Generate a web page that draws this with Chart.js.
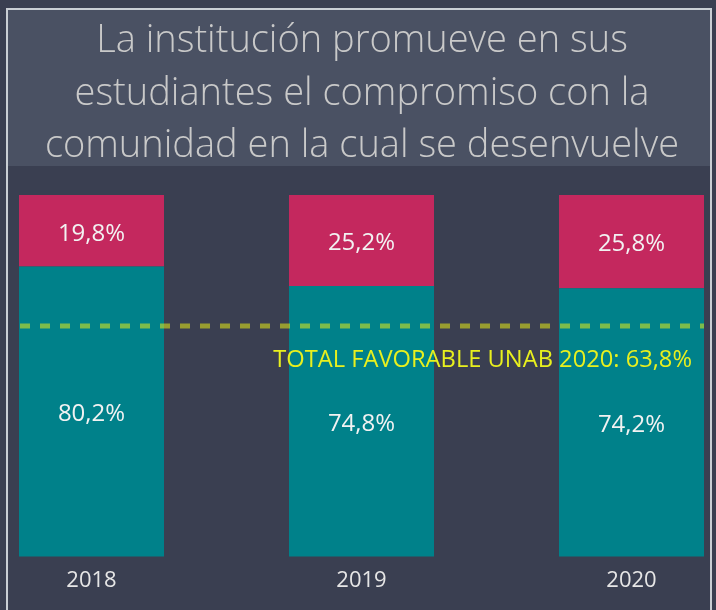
<!DOCTYPE html>
<html>
<head>
<meta charset="utf-8">
<script src="https://cdn.jsdelivr.net/npm/chart.js@4"></script>
<style>
  html, body { margin: 0; padding: 0; background: #3a3f51; }
  #wrap { width: 716px; height: 610px; }
</style>
</head>
<body>
<div id="wrap"><canvas id="chart" width="716" height="610"></canvas></div>
<script>
// Data
const years = ["2018", "2019", "2020"];
const favorable = [80.2, 74.8, 74.2];
const noFavorable = [19.8, 25.2, 25.8];
const totalUnab = 63.8;
const totalLabel = "TOTAL FAVORABLE UNAB 2020: ";
const titleLines = [
  "La institución promueve en sus",
  "estudiantes el compromiso con la",
  "comunidad en la cual se desenvuelve"
];

const FONT = "'Open Sans', 'Noto Sans', sans-serif";

function fmt(v) {
  return v.toFixed(1).replace(".", ",") + "%";
}

// background, title box, title text and frame
const framePlugin = {
  id: "frame",
  beforeDraw(chart) {
    const ctx = chart.ctx;
    ctx.save();
    ctx.fillStyle = "#3a3f51";
    ctx.fillRect(0, 0, chart.width, chart.height);
    ctx.fillStyle = "#4a5163";
    ctx.fillRect(8, 9, 702, 157);
    ctx.strokeStyle = "#c9ced4";
    ctx.lineWidth = 2;
    ctx.beginPath();
    ctx.moveTo(7, chart.height + 2);
    ctx.lineTo(7, 9);
    ctx.lineTo(711, 9);
    ctx.lineTo(711, chart.height + 2);
    ctx.stroke();

    // title (drawn by hand so the lines are not squeezed to the plot width)
    ctx.font = "300 38px " + FONT;
    ctx.fillStyle = "#c9c9c9";
    ctx.textAlign = "center";
    ctx.textBaseline = "alphabetic";
    titleLines.forEach((line, i) => {
      ctx.fillText(line, 362, 52 + i * 52.5);
    });
    ctx.restore();
  }
};

// values inside bars + reference line
const labelPlugin = {
  id: "labels",
  afterDatasetsDraw(chart) {
    const ctx = chart.ctx;
    ctx.save();
    ctx.font = "24px " + FONT;
    ctx.fillStyle = "#f2f2f2";
    ctx.textAlign = "center";
    ctx.textBaseline = "middle";
    chart.data.datasets.forEach((ds, di) => {
      chart.getDatasetMeta(di).data.forEach((bar, i) => {
        const mid = (bar.y + bar.base) / 2;
        ctx.fillText(fmt(ds.data[i]), bar.x, mid + 3);
      });
    });

    const bars = chart.getDatasetMeta(0).data;
    const first = bars[0], last = bars[bars.length - 1];
    const x0 = first.x - first.width / 2;
    const x1 = last.x + last.width / 2;
    const y = chart.scales.y.getPixelForValue(totalUnab);
    ctx.strokeStyle = "rgba(236, 241, 18, 0.53)";
    ctx.lineWidth = 5;
    ctx.setLineDash([10, 10]);
    ctx.beginPath();
    ctx.moveTo(x0 + 1, y);
    ctx.lineTo(x1, y);
    ctx.stroke();

    ctx.setLineDash([]);
    ctx.font = "23.7px " + FONT;
    ctx.fillStyle = "#e8f01e";
    ctx.textAlign = "right";
    ctx.fillText(totalLabel + fmt(totalUnab), x1 - 12, y + 34);
    ctx.restore();
  }
};

new Chart(document.getElementById("chart").getContext("2d"), {
  type: "bar",
  data: {
    labels: years,
    datasets: [
      {
        label: "Favorable",
        data: favorable,
        backgroundColor: "#00818a",
        categoryPercentage: 1,
        barPercentage: 145 / 270,
        clip: false
      },
      {
        label: "No favorable",
        data: noFavorable,
        backgroundColor: "#c4285e",
        categoryPercentage: 1,
        barPercentage: 145 / 270,
        clip: false
      }
    ]
  },
  options: {
    responsive: false,
    animation: false,
    layout: {
      padding: { left: 91.5, right: 84.5, top: 195, bottom: 5 }
    },
    scales: {
      x: {
        stacked: true,
        offset: false,
        grid: { display: false, drawTicks: false },
        border: { display: false },
        ticks: {
          color: "#e6e6e6",
          padding: 11,
          font: { family: FONT, size: 22 }
        }
      },
      y: {
        stacked: true,
        display: false,
        min: 0,
        max: 100
      }
    },
    plugins: {
      legend: { display: false },
      tooltip: { enabled: false },
      title: { display: false }
    }
  },
  plugins: [framePlugin, labelPlugin]
});
</script>
</body>
</html>
